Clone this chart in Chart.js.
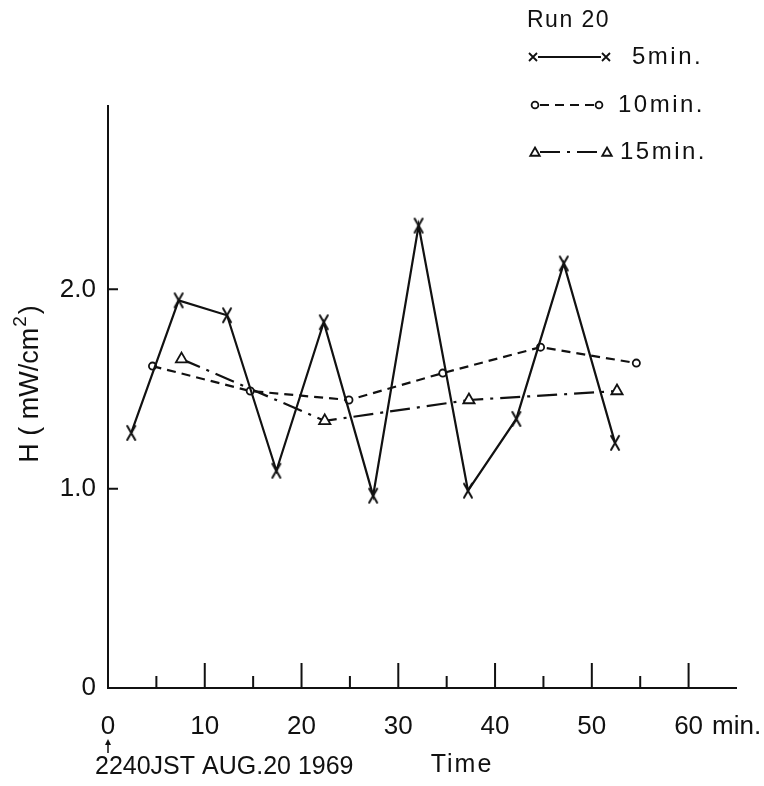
<!DOCTYPE html>
<html><head><meta charset="utf-8">
<script src="https://cdn.jsdelivr.net/npm/chart.js@4/dist/chart.umd.min.js"></script>
<style>html,body{margin:0;padding:0;background:#fff}#wrap{width:764px;height:786px;position:relative}</style>
</head><body><div id="wrap"><canvas id="c"></canvas></div>
<script>
// ---- data ----
const runLabel = 'Run 20';
const seriesNames = ['5min.', '10min.', '15min.'];
const t5  = [2.4, 7.3, 12.3, 17.4, 22.3, 27.4, 32.1, 37.2, 42.2, 47.1, 52.4];
const h5  = [1.28, 1.945, 1.87, 1.09, 1.835, 0.965, 2.32, 0.99, 1.35, 2.13, 1.23];
const t10 = [4.6, 14.7, 24.9, 34.6, 44.7, 54.6];
const h10 = [1.615, 1.49, 1.445, 1.58, 1.71, 1.63];
const t15 = [7.6, 22.4, 37.3, 52.6];
const h15 = [1.65, 1.34, 1.445, 1.49];
const xTicks = [0, 10, 20, 30, 40, 50, 60];
const xMinorTicks = [5, 15, 25, 35, 45, 55];
const yTicks = [0, 1, 2];
const xUnit = 'min.';
const yTitleMain = 'H ( mW/cm';
const yTitleSup = '2';
const yTitleEnd = ')';
const xTitle = 'Time';
const startNote = '2240JST AUG.20 1969';

const FONT = "'Liberation Sans', Arial, sans-serif";
const INK = '#111';

// tall narrow "x" marker like the original
function makeX() {
  const c = document.createElement('canvas');
  c.width = 12; c.height = 18;
  const g = c.getContext('2d');
  g.strokeStyle = INK; g.lineWidth = 2; g.lineCap = 'round';
  g.beginPath(); g.moveTo(2, 2); g.lineTo(10, 16); g.moveTo(10, 2); g.lineTo(2, 16); g.stroke();
  return c;
}
const xMarker = makeX();

const pts = (xs, ys) => xs.map((x, i) => ({x: x, y: ys[i]}));

const decor = {
  id: 'decor',
  afterDraw(chart) {
    const ctx = chart.ctx;
    const xs = chart.scales.x, ys = chart.scales.y;
    const ca = chart.chartArea;
    ctx.save();
    ctx.strokeStyle = INK; ctx.fillStyle = INK; ctx.lineWidth = 2;
    // inward tick marks
    ctx.beginPath();
    xTicks.forEach(v => { if (v === 0) return; const px = xs.getPixelForValue(v); ctx.moveTo(px, ca.bottom); ctx.lineTo(px, ca.bottom - 25); });
    xMinorTicks.forEach(v => { const px = xs.getPixelForValue(v); ctx.moveTo(px, ca.bottom); ctx.lineTo(px, ca.bottom - 12); });
    yTicks.forEach(v => { if (v === 0) return; const py = ys.getPixelForValue(v); ctx.moveTo(ca.left, py); ctx.lineTo(ca.left + 10, py); });
    ctx.stroke();

    // unit after last x tick label
    ctx.font = '26px ' + FONT;
    ctx.textBaseline = 'middle'; ctx.textAlign = 'left';
    const p60 = xs.getPixelForValue(xTicks[xTicks.length - 1]);
    const w60 = ctx.measureText(String(xTicks[xTicks.length - 1])).width;
    ctx.fillText(xUnit, p60 + w60 / 2 + 9, 727);

    // arrow under 0
    const p0 = xs.getPixelForValue(0);
    ctx.lineWidth = 1.5;
    ctx.beginPath(); ctx.moveTo(p0, 742); ctx.lineTo(p0, 753); ctx.stroke();
    ctx.beginPath(); ctx.moveTo(p0, 739); ctx.lineTo(p0 - 3, 745); ctx.lineTo(p0 + 3, 745); ctx.closePath(); ctx.fill();

    // start time note and x title
    ctx.font = '25px ' + FONT;
    ctx.textAlign = 'left';
    ctx.fillText(startNote, 95, 767);
    ctx.letterSpacing = '2px';
    ctx.textAlign = 'center';
    ctx.fillText(xTitle, 462, 765);
    ctx.letterSpacing = '0px';

    // y title (rotated) with superscript
    ctx.save();
    ctx.translate(31, 384);
    ctx.rotate(-Math.PI / 2);
    ctx.textAlign = 'left';
    ctx.font = '27px ' + FONT;
    const wMain = ctx.measureText(yTitleMain).width;
    const wEnd = ctx.measureText(yTitleEnd).width;
    ctx.font = '19px ' + FONT;
    const wSup = ctx.measureText(yTitleSup).width;
    const total = wMain + wSup + 3 + wEnd;
    let x0 = -total / 2;
    ctx.font = '27px ' + FONT;
    ctx.fillText(yTitleMain, x0, 0);
    ctx.font = '19px ' + FONT;
    ctx.fillText(yTitleSup, x0 + wMain + 1, -10);
    ctx.font = '27px ' + FONT;
    ctx.fillText(yTitleEnd, x0 + wMain + wSup + 3, 0);
    ctx.restore();

    // legend
    ctx.textAlign = 'left';
    ctx.font = '23px ' + FONT;
    ctx.letterSpacing = '1.5px';
    ctx.fillText(runLabel, 527, 21);
    ctx.font = '24px ' + FONT;
    ctx.letterSpacing = '2.5px';
    const rows = [
      {y: 57, a: 533, b: 606, tx: 632},
      {y: 105, a: 535, b: 599, tx: 618},
      {y: 152, a: 535, b: 607, tx: 620}
    ];
    chart.data.datasets.forEach((ds, i) => {
      const r = rows[i];
      ctx.save();
      ctx.lineWidth = ds.borderWidth;
      ctx.setLineDash(ds.borderDash || []);
      ctx.beginPath(); ctx.moveTo(r.a + 5, r.y); ctx.lineTo(r.b - 5, r.y); ctx.stroke();
      ctx.setLineDash([]);
      [r.a, r.b].forEach(px => {
        if (ds.pointStyle === 'circle') {
          ctx.lineWidth = 1.8; ctx.fillStyle = '#fff';
          ctx.beginPath(); ctx.arc(px, r.y, 3.4, 0, Math.PI * 2); ctx.fill(); ctx.stroke();
        } else if (ds.pointStyle === 'triangle') {
          ctx.lineWidth = 1.8; ctx.fillStyle = '#fff';
          const rr = 5.5;
          ctx.beginPath();
          for (let k = 0; k < 3; k++) { const a = -Math.PI / 2 + k * 2 * Math.PI / 3; const X = px + Math.cos(a) * rr, Y = r.y + 1 + Math.sin(a) * rr; k ? ctx.lineTo(X, Y) : ctx.moveTo(X, Y); }
          ctx.closePath(); ctx.fill(); ctx.stroke();
        } else {
          ctx.lineWidth = 1.8;
          ctx.beginPath(); ctx.moveTo(px - 4, r.y - 4); ctx.lineTo(px + 4, r.y + 4); ctx.moveTo(px + 4, r.y - 4); ctx.lineTo(px - 4, r.y + 4); ctx.stroke();
        }
      });
      ctx.restore();
      ctx.fillStyle = INK;
      ctx.fillText(ds.label, r.tx, r.y);
    });
    ctx.letterSpacing = '0px';
    ctx.restore();
  }
};

const tickFont = {family: FONT, size: 26};

new Chart(document.getElementById('c'), {
  type: 'line',
  data: {
    datasets: [
      {label: seriesNames[0], data: pts(t5, h5), borderColor: INK, borderWidth: 2.2,
       pointStyle: xMarker, pointRadius: 7, fill: false, tension: 0},
      {label: seriesNames[1], data: pts(t10, h10), borderColor: INK, borderWidth: 2.2, borderDash: [9, 6],
       pointStyle: 'circle', pointRadius: 3.6, pointBorderWidth: 1.8, pointBorderColor: INK, pointBackgroundColor: '#fff', fill: false, tension: 0},
      {label: seriesNames[2], data: pts(t15, h15), borderColor: INK, borderWidth: 2.2, borderDash: [20, 7, 3, 7],
       pointStyle: 'triangle', pointRadius: 6.5, pointBorderWidth: 1.8, pointBorderColor: INK, pointBackgroundColor: '#fff', fill: false, tension: 0}
    ]
  },
  options: {
    responsive: true, maintainAspectRatio: false, animation: false,
    layout: {padding: {top: 106, right: 28, left: 0, bottom: 0}},
    plugins: {legend: {display: false}, tooltip: {enabled: false}},
    scales: {
      x: {
        type: 'linear', min: 0, max: 64.9,
        afterBuildTicks: s => { s.ticks = xTicks.map(v => ({value: v})); },
        afterFit: s => { s.height = 98; },
        grid: {display: false, drawTicks: false},
        border: {display: true, color: INK, width: 2},
        ticks: {padding: 23, font: tickFont, color: INK, maxRotation: 0, autoSkip: false, callback: v => String(v)}
      },
      y: {
        type: 'linear', min: 0, max: 2.92,
        afterBuildTicks: s => { s.ticks = yTicks.map(v => ({value: v})); },
        afterFit: s => { s.width = 108; },
        grid: {display: false, drawTicks: false},
        border: {display: true, color: INK, width: 2},
        ticks: {padding: 12, font: tickFont, color: INK, callback: v => v === 0 ? '0' : v.toFixed(1)}
      }
    }
  },
  plugins: [decor]
});
</script>
</body></html>
